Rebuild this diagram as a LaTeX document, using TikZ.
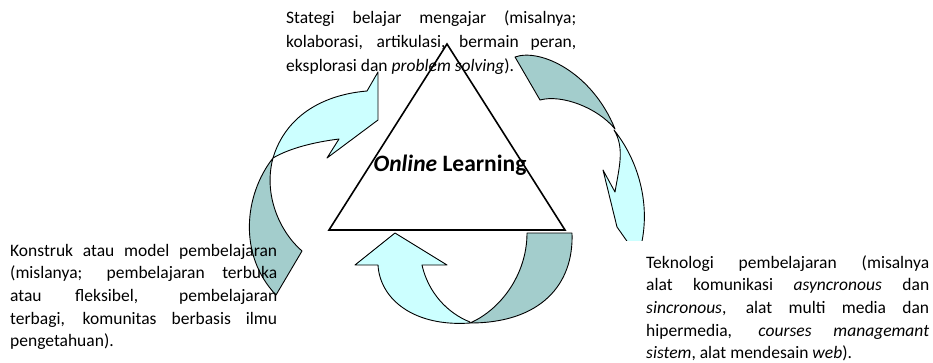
\documentclass[tikz,border=0pt]{standalone}
\usepackage{fontspec}
\setmainfont{Carlito}
\definecolor{cyanmuda}{RGB}{204,255,255}
\definecolor{hijaukelabu}{RGB}{163,205,204}
\tikzset{
  panah/.style={draw=black, line width=0.9pt, line join=round},
  kepala/.style={panah, fill=cyanmuda},
  ekor/.style={panah, fill=hijaukelabu},
  teks/.style={text width=#1, align=justify, inner sep=0pt, anchor=base west,
    font=\fontsize{17.5}{22.7}\selectfont},
}
\begin{document}
\begin{tikzpicture}[x=1pt, y=-1pt]
                \useasboundingbox (0,0) rectangle (933,362);
                % segitiga
                \draw[line width=1.6pt, fill=white] (447,44) -- (329,230) -- (565,230) -- cycle;
                % panah kiri
                \draw[ekor] (273,158) .. controls (244,195) and (238,255) .. (276,295) -- (302,251)
                    .. controls (280,232) and (263,195) .. (273,158) -- cycle;
                \draw[kepala] (273,158) .. controls (285,118) and (320,95) .. (367,91) -- (378,72) -- (378,120)
                    -- (327,158) -- (339,139) .. controls (315,142) and (290,148) .. (273,158) -- cycle;
                % panah kanan
                \begin{scope}
                  \clip (590,110) rectangle (680,240);
                  \draw[kepala] (614,130) .. controls (638,160) and (652,205) .. (640,250) -- (636,254)
                      -- (617,227) -- (603,170) -- (615,192) .. controls (619,168) and (625,148) .. (614,130) -- cycle;
                \end{scope}
                \draw[ekor] (515,57) .. controls (540,48) and (592,72) .. (615,129)
                    .. controls (598,108) and (562,94) .. (540,100) -- cycle;
                % panah bawah
                \draw[kepala] (470,323) .. controls (415,327) and (380,300) .. (378,265) -- (355,265) -- (395,233)
                    -- (447,265) -- (422,265) .. controls (428,292) and (447,313) .. (470,322) -- cycle;
                \draw[ekor] (527,233) -- (572,233) .. controls (574,285) and (540,323) .. (470,323)
                    .. controls (500,310) and (527,275) .. (527,233) -- cycle;
                % judul
                \node[anchor=base, font=\fontsize{23.5}{28}\selectfont\bfseries] (judul) at (450,171) {\textit{Online} Learning};
                % teks atas
                \node[teks=290pt, font=\fontsize{17.5}{24}\selectfont] (strategi) at (286,23)
                  {Stategi belajar mengajar (misalnya;\linebreak kolaborasi, artikulasi, bermain peran,\linebreak
                   eksplorasi dan \textit{problem solving}).};
                % teks kiri
                \node[teks=267pt] (konstruk) at (10,256)
                  {Konstruk atau model pembelajaran\linebreak (mislanya; pembelajaran terbuka\linebreak
                   atau fleksibel, pembelajaran\linebreak terbagi, komunitas berbasis ilmu\linebreak pengetahuan).};
                % teks kanan
                \node[teks=283pt] (teknologi) at (646,268)
                  {Teknologi pembelajaran (misalnya\linebreak alat komunikasi \textit{asyncronous} dan\linebreak
                   \textit{sincronous}, alat multi media dan\linebreak hipermedia, \textit{courses managemant}\linebreak
                   \textit{sistem}, alat mendesain \textit{web}).};
            \end{tikzpicture}
\end{document}
